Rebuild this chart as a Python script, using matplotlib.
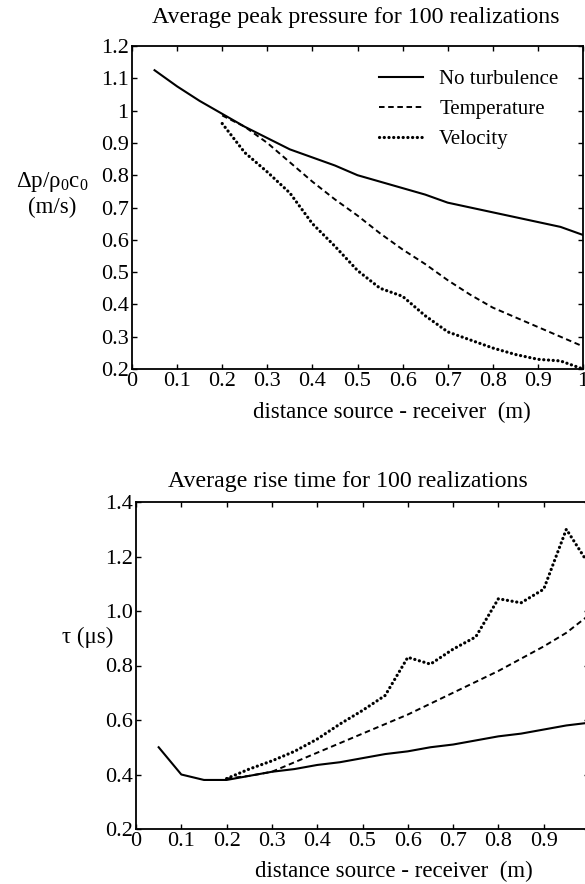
import matplotlib
matplotlib.use("Agg")
import matplotlib.pyplot as plt

plt.rcParams['font.family'] = ['Liberation Serif', 'DejaVu Serif']
plt.rcParams['mathtext.fontset'] = 'custom'
plt.rcParams['mathtext.rm'] = 'Liberation Serif'
plt.rcParams['mathtext.it'] = 'Liberation Serif:italic'
plt.rcParams['lines.scale_dashes'] = False

# distance source - receiver (m)
dist = [0.05, 0.1, 0.15, 0.2, 0.25, 0.3, 0.35, 0.4, 0.45, 0.5,
        0.55, 0.6, 0.65, 0.7, 0.75, 0.8, 0.85, 0.9, 0.95, 1.0]
dist_turb = dist[3:]

# average peak pressure
p_none = [1.125, 1.075, 1.03, 0.99, 0.95, 0.915, 0.88, 0.855, 0.83, 0.80,
          0.78, 0.76, 0.74, 0.715, 0.70, 0.685, 0.67, 0.655, 0.64, 0.615]
p_temp = [0.985, 0.95, 0.90, 0.84, 0.78, 0.725, 0.675, 0.62, 0.57,
          0.525, 0.475, 0.43, 0.39, 0.36, 0.33, 0.30, 0.27]
p_vel = [0.96, 0.87, 0.81, 0.745, 0.65, 0.58, 0.505, 0.45, 0.425,
         0.365, 0.315, 0.29, 0.265, 0.245, 0.23, 0.225, 0.20]

# average rise time
t_none = [0.50, 0.40, 0.38, 0.38, 0.395, 0.41, 0.42, 0.435, 0.445, 0.46,
          0.475, 0.485, 0.50, 0.51, 0.525, 0.54, 0.55, 0.565, 0.58, 0.59]
t_temp = [0.385, 0.395, 0.41, 0.445, 0.48, 0.515, 0.55, 0.585, 0.62,
          0.66, 0.70, 0.74, 0.78, 0.825, 0.87, 0.92, 0.985]
t_vel = [0.385, 0.42, 0.45, 0.485, 0.53, 0.585, 0.635, 0.69, 0.83,
         0.805, 0.86, 0.905, 1.045, 1.03, 1.08, 1.30, 1.17]

x_ticks = [0, 0.1, 0.2, 0.3, 0.4, 0.5, 0.6, 0.7, 0.8, 0.9, 1.0]
x_labels = ['0', '0.1', '0.2', '0.3', '0.4', '0.5', '0.6', '0.7', '0.8', '0.9', '1']
p_ticks = [0.2, 0.3, 0.4, 0.5, 0.6, 0.7, 0.8, 0.9, 1.0, 1.1, 1.2]
p_labels = ['0.2', '0.3', '0.4', '0.5', '0.6', '0.7', '0.8', '0.9', '1', '1.1', '1.2']
t_ticks = [0.2, 0.4, 0.6, 0.8, 1.0, 1.2, 1.4]
t_labels = ['0.2', '0.4', '0.6', '0.8', '1.0', '1.2', '1.4']

W, H = 585, 884
fig = plt.figure(figsize=(W / 100, H / 100), dpi=100)

def px_axes(l, r, t, b):
    return fig.add_axes([l / W, 1 - b / H, (r - l) / W, (b - t) / H])

solid = dict(color='black', lw=1.5, ls='-')
dashed = dict(color='black', lw=1.4, ls=(0, (4.0, 2.6)))
dotted = dict(color='black', lw=2.3, ls=(0, (0.1, 3.3)), dash_capstyle='round')

def style(ax):
    for s in ax.spines.values():
        s.set_linewidth(1.3)
    ax.tick_params(direction='in', length=3.5, width=1.0, top=True, right=True,
                   labelsize=16, pad=2.5)
    ax.set_xticks(x_ticks)
    ax.set_xticklabels(x_labels)
    ax.set_xlim(0, 1)

ax1 = px_axes(132, 583, 46, 369)
ax1.plot(dist, p_none, label='No turbulence', **solid)
ax1.plot(dist_turb, p_temp, label='Temperature', **dashed)
ax1.plot(dist_turb, p_vel, label='Velocity', **dotted)
style(ax1)
ax1.set_ylim(0.2, 1.2)
ax1.set_yticks(p_ticks)
ax1.set_yticklabels(p_labels)
ax1.legend(loc='upper right', bbox_to_anchor=(0.978, 0.972), frameon=False,
           fontsize=15, handlelength=2.1, handletextpad=0.8, labelspacing=0.5,
           borderaxespad=0.3)

ax2 = px_axes(136, 589, 502, 829)
ax2.plot(dist, t_none, **solid)
ax2.plot(dist_turb, t_temp, **dashed)
ax2.plot(dist_turb, t_vel, **dotted)
style(ax2)
ax2.set_ylim(0.2, 1.4)
ax2.set_yticks(t_ticks)
ax2.set_yticklabels(t_labels)

def ftext(x, y, s, size=15, **kw):
    fig.text(x / W, 1 - y / H, s, fontsize=size, ha='center', va='center', **kw)

ftext(356, 18, 'Average peak pressure for 100 realizations', size=17.2)
ftext(348, 482, 'Average rise time for 100 realizations', size=17.2)
ftext(52, 182, r'$\mathregular{Δp/ρ_0c_0}$', size=16.5)
ftext(52, 207, '(m/s)', size=16.5)
ftext(88, 637, 'τ (μs)', size=16.5)
ftext(392, 412, 'distance source - receiver  (m)', size=16.5)
ftext(394, 871, 'distance source - receiver  (m)', size=16.5)

fig.savefig('out.png', dpi=100)
